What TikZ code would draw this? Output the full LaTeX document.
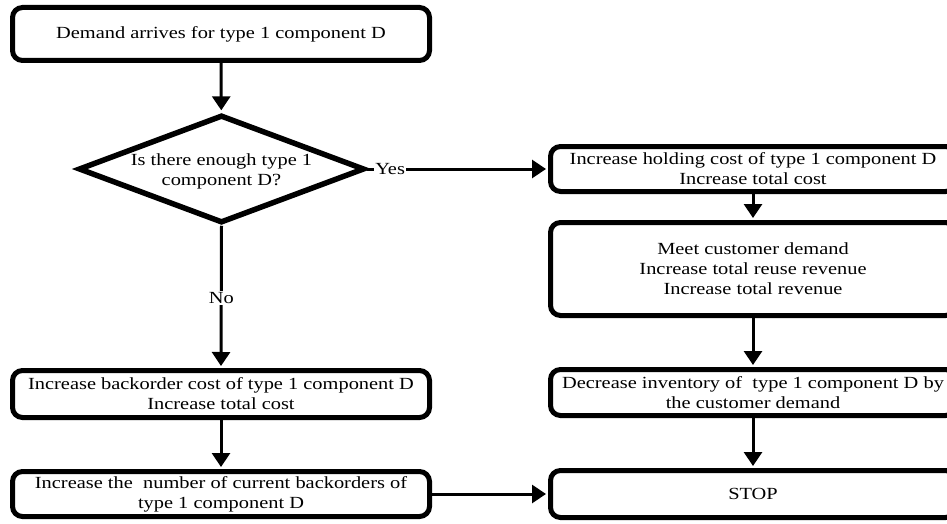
\documentclass[tikz,border=0pt]{standalone}
\usepackage{fontspec}
\setmainfont{Liberation Serif}[FakeStretch=1.2]
\usetikzlibrary{shapes.geometric,arrows.meta}
\begin{document}
\begin{tikzpicture}[x=1pt,y=-1pt,
  box/.style={draw, line width=5pt, rounded corners=10pt, align=center, font=\fontsize{17}{20}\selectfont, inner sep=2pt},
  arr/.style={line width=3pt, -{Triangle[length=14pt,width=18pt]}, shorten >=2pt},
  lbl/.style={fill=white, font=\fontsize{17}{20}\selectfont, inner sep=1.5pt}]
\useasboundingbox (0,0) rectangle (947,524);
\clip (0,0) rectangle (947,524);
% left column
\node[box, minimum width=417pt, minimum height=53pt] (start) at (221,34) {Demand arrives for type 1 component D};
\node[draw, diamond, line width=5.5pt, minimum width=286pt, minimum height=108pt, aspect=2.6, inner sep=0pt] (q) at (221.5,169)
  {\raisebox{-7pt}[0pt][0pt]{\makebox[0pt]{\fontsize{17}{20}\selectfont\begin{tabular}{@{}c@{}}Is there enough type 1\\ component D?\end{tabular}}}};
\node[box, minimum width=417pt, minimum height=47pt] (back) at (221,394) {Increase backorder cost of type 1 component D\\ Increase total cost};
\node[box, minimum width=417pt, minimum height=45pt] (backs) at (221,494) {Increase the~ number of current backorders of\\ type 1 component D};
% right column
\node[box, minimum width=405pt, minimum height=45pt] (hold) at (753,169) {Increase holding cost of type 1 component D\\ Increase total cost};
\node[box, minimum width=405pt, minimum height=93pt] (meet) at (753,269) {Meet customer demand\\ Increase total reuse revenue\\ Increase total revenue};
\node[box, minimum width=405pt, minimum height=46pt] (dec) at (753,392.5) {Decrease inventory of~ type 1 component D by\\ the customer demand};
\node[box, minimum width=405pt, minimum height=47pt] (stop) at (753,494) {STOP};
% connectors
\draw[arr] (start) -- (q);
\draw[arr] (q.east) -- node[lbl, pos=0, anchor=west, xshift=5pt] {Yes} (hold.west);
\draw[arr] (q.south) -- node[lbl, pos=0.51] {No} (back.north);
\draw[arr] (back) -- (backs);
\draw[arr] (backs) -- (stop);
\draw[arr] (hold) -- (meet);
\draw[arr] (meet) -- (dec);
\draw[arr] (dec) -- (stop);
\end{tikzpicture}
\end{document}
